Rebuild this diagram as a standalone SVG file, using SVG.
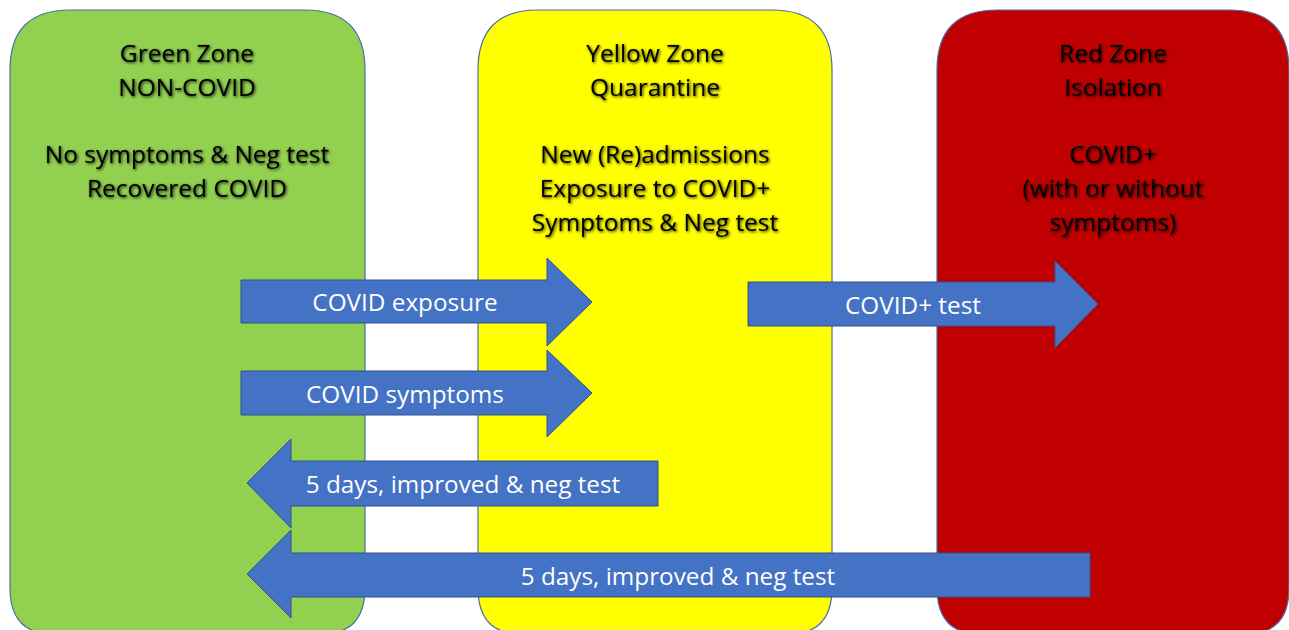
<svg xmlns="http://www.w3.org/2000/svg" width="1289" height="630" viewBox="0 0 1289 630">
<defs>
<style>
.zone{stroke:#4A6FA5;stroke-width:1.2}
.zt{font-family:"Open Sans","Liberation Sans",sans-serif;font-size:24.5px;fill:#000;text-anchor:middle;filter:url(#sh)}
.arr{fill:#4472C4;stroke:#2F528F;stroke-width:1}
.at{font-family:"Open Sans","Liberation Sans",sans-serif;font-size:24.3px;fill:#fff;text-anchor:middle}
</style>
<filter id="sh" x="-10%" y="-30%" width="120%" height="160%">
<feGaussianBlur in="SourceAlpha" stdDeviation="1.7" result="b"/>
<feOffset in="b" dx="1" dy="1.2" result="o"/>
<feComponentTransfer in="o" result="o2"><feFuncA type="linear" slope="0.9"/></feComponentTransfer>
<feMerge><feMergeNode in="o2"/><feMergeNode in="SourceGraphic"/></feMerge>
</filter>
</defs>
<rect width="1289" height="630" fill="#fff"/>
<g id="green-zone">
<path class="zone" fill="#92D050" d="M10,70 Q10,10 70,10 L305,10 Q365,10 365,70 L365,588 Q365,634 322,634 L53,634 Q10,634 10,588 Z"/>
<text class="zt" x="187" y="62">Green Zone</text>
<text class="zt" x="187" y="96">NON-COVID</text>
<text class="zt" x="187" y="163">No symptoms &amp; Neg test</text>
<text class="zt" x="187" y="197">Recovered COVID</text>
</g>
<g id="yellow-zone">
<path class="zone" fill="#FFFF00" d="M478,70 Q478,10 538,10 L772,10 Q832,10 832,70 L832,588 Q832,634 789,634 L521,634 Q478,634 478,588 Z"/>
<text class="zt" x="655" y="62">Yellow Zone</text>
<text class="zt" x="655" y="96">Quarantine</text>
<text class="zt" x="655" y="163">New (Re)admissions</text>
<text class="zt" x="655" y="197">Exposure to COVID+</text>
<text class="zt" x="655" y="231">Symptoms &amp; Neg test</text>
</g>
<g id="red-zone">
<path class="zone" fill="#C00000" d="M937,70 Q937,10 997,10 L1229,10 Q1289,10 1289,70 L1289,588 Q1289,634 1246,634 L980,634 Q937,634 937,588 Z"/>
<text class="zt" x="1113" y="62">Red Zone</text>
<text class="zt" x="1113" y="96">Isolation</text>
<text class="zt" x="1113" y="163">COVID+</text>
<text class="zt" x="1113" y="197">(with or without</text>
<text class="zt" x="1113" y="231">symptoms)</text>
</g>
<g id="connectors">
<g id="arrow-exposure">
<path class="arr" d="M241,280 L547,280 L547,258 L592,302 L547,346 L547,323 L241,323 Z"/>
<text class="at" x="405" y="311">COVID exposure</text>
</g>
<g id="arrow-symptoms">
<path class="arr" d="M241,371 L547,371 L547,350 L592,393 L547,437 L547,415 L241,415 Z"/>
<text class="at" x="405" y="403">COVID symptoms</text>
</g>
<g id="arrow-test">
<path class="arr" d="M748,282 L1055,282 L1055,261 L1098,304 L1055,348 L1055,326 L748,326 Z"/>
<text class="at" x="913" y="314">COVID+ test</text>
</g>
<g id="arrow-back-yellow">
<path class="arr" d="M658,461 L291,461 L291,439 L247,483 L291,528 L291,506 L658,506 Z"/>
<text class="at" x="463" y="493">5 days, improved &amp; neg test</text>
</g>
<g id="arrow-back-red">
<path class="arr" d="M1090,553 L291,553 L291,530 L247,574 L291,618 L291,597 L1090,597 Z"/>
<text class="at" x="678" y="585">5 days, improved &amp; neg test</text>
</g>
</g>
</svg>
